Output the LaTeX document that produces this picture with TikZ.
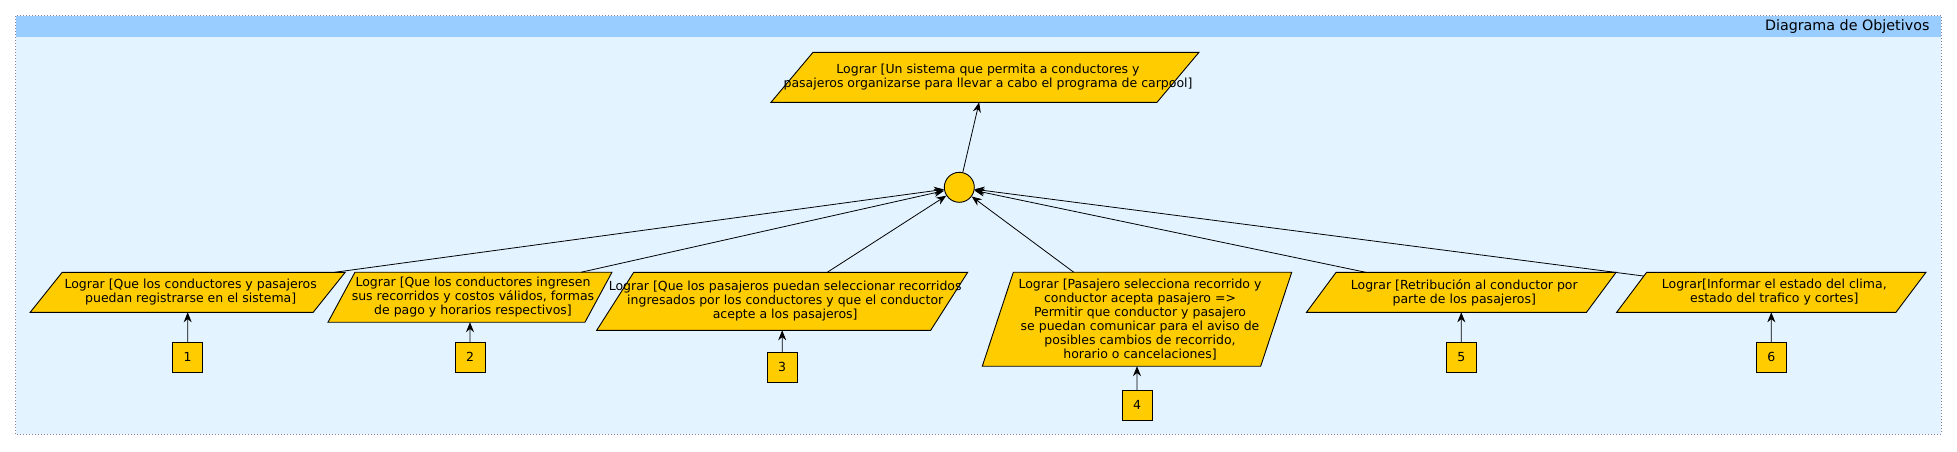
\documentclass[tikz,border=0pt]{standalone}
\usepackage{fontspec}
\setmainfont{DejaVu Sans}
\usetikzlibrary{arrows.meta}
\definecolor{goalyellow}{RGB}{255,204,0}
\definecolor{panelblue}{RGB}{227,243,255}
\definecolor{headblue}{RGB}{153,204,255}
\definecolor{framegray}{RGB}{128,128,165}
\tikzset{
    goal/.style={rectangle, draw=black, fill=goalyellow, transform shape,
        line width=0.9pt, inner sep=0pt, outer sep=0pt},
    goaltext/.style={align=center, font=\fontsize{12.5}{14}\selectfont, xshift=3pt},
    numbox/.style={rectangle, draw=black, fill=goalyellow, line width=0.9pt,
        minimum size=30pt, inner sep=0pt, font=\fontsize{12.5}{14}\selectfont},
    andnode/.style={circle, draw=black, fill=goalyellow, line width=0.9pt,
        minimum size=30pt, inner sep=0pt},
    refine/.style={-{Stealth[length=10pt,width=8pt]}, line width=0.8pt}
}
\begin{document}
\begin{tikzpicture}[x=1pt, y=-1pt]
    \useasboundingbox (0,0) rectangle (1957,451);

        %%draw the frame
        \draw[framegray, line width=1pt, dash pattern=on 1pt off 2pt, fill=panelblue] (15.5,15.5) rectangle (1941,434);
        \fill[headblue] (16,16) rectangle (1940.5,37);
        \node[anchor=east, font=\fontsize{14.3}{16}\selectfont] (title) at (1933,27) {Diagrama de Objetivos};

        %%draw the goals
        \node[goal, minimum width=386pt, minimum height=50pt, xslant=0.84] (top) at (985,77.3) {};
            \node[goaltext] (ttop) at (top) {Lograr [Un sistema que permita a conductores y\\pasajeros organizarse para llevar a cabo el programa de carpool]};
        \node[andnode] (hub) at (959.3,187.3) {};

        \node[goal, minimum width=283pt, minimum height=40pt, xslant=0.8] (g1) at (187.7,292.3) {};
            \node[goaltext] (t1) at (g1) {Lograr [Que los conductores y pasajeros\\puedan registrarse en el sistema]};
        \node[goal, minimum width=257pt, minimum height=50pt, xslant=0.54] (g2) at (470,297.2) {};
            \node[goaltext] (t2) at (g2) {Lograr [Que los conductores ingresen\\sus recorridos y costos válidos, formas\\de pago y horarios respectivos]};
        \node[goal, minimum width=334pt, minimum height=58pt, xslant=0.638] (g3) at (782.2,301.3) {};
            \node[goaltext] (t3) at (g3) {Lograr [Que los pasajeros puedan seleccionar recorridos\\ingresados por los conductores y que el conductor\\acepte a los pasajeros]};
        \node[goal, minimum width=278.4pt, minimum height=94pt, xslant=0.33] (g4) at (1137,319.2) {};
            \node[goaltext] (t4) at (g4) {Lograr [Pasajero selecciona recorrido y\\conductor acepta pasajero =>\\Permitir que conductor y pasajero\\se puedan comunicar para el aviso de\\posibles cambios de recorrido,\\horario o cancelaciones]};
        \node[goal, minimum width=280pt, minimum height=40pt, xslant=0.74] (g5) at (1461.3,292.3) {};
            \node[goaltext] (t5) at (g5) {Lograr [Retribución al conductor por\\parte de los pasajeros]};
        \node[goal, minimum width=279.3pt, minimum height=40pt, xslant=0.75] (g6) at (1771.3,292.3) {};
            \node[goaltext] (t6) at (g6) {Lograr[Informar el estado del clima,\\estado del trafico y cortes]};

        %%draw the numbered boxes
        \node[numbox] (s1) at (187.7,357.3) {1};
        \node[numbox] (s2) at (470,357.3) {2};
        \node[numbox] (s3) at (782.2,367.3) {3};
        \node[numbox] (s4) at (1137,405.3) {4};
        \node[numbox] (s5) at (1461.3,357.3) {5};
        \node[numbox] (s6) at (1771.3,357.3) {6};

        %%draw the arrows
        \draw[refine] (hub) to (top);
        \draw[refine] (g1) to (hub);
        \draw[refine] (g2) to (hub);
        \draw[refine] (g3) to (hub);
        \draw[refine] (g4) to (hub);
        \draw[refine] (g5) to (hub);
        \draw[refine] (g6) to (hub);

        \draw[refine] (s1) to (g1);
        \draw[refine] (s2) to (g2);
        \draw[refine] (s3) to (g3);
        \draw[refine] (s4) to (g4);
        \draw[refine] (s5) to (g5);
        \draw[refine] (s6) to (g6);
\end{tikzpicture}
\end{document}
